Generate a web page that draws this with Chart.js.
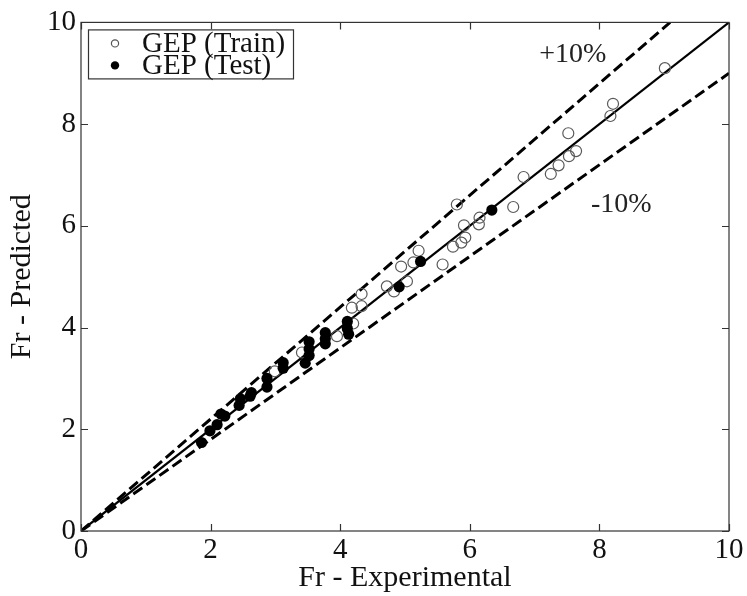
<!DOCTYPE html>
<html><head><meta charset="utf-8">
<script src="https://cdn.jsdelivr.net/npm/chart.js@4"></script>
<style>html,body{margin:0;padding:0;background:#fff}</style>
</head><body>
<canvas id="c" width="747" height="596"></canvas>
<script>
// ---- data ----
const trainX = [9.01,8.21,8.17,7.52,7.64,7.53,7.37,7.25,6.83,6.67,5.80,6.15,6.14,5.91,5.93,5.87,5.74,5.58,5.21,5.13,4.94,5.03,4.83,4.72,4.33,4.18,4.33,4.20,3.95,3.41,2.99];
const trainY = [9.10,8.40,8.16,7.82,7.47,7.37,7.19,7.02,6.96,6.37,6.42,6.16,6.03,6.01,5.77,5.67,5.59,5.24,5.51,5.28,5.20,4.91,4.71,4.81,4.66,4.39,4.42,4.08,3.83,3.51,3.14];
const testX = [6.34,5.24,4.91,4.11,4.11,4.13,3.77,3.77,3.77,3.52,3.52,3.52,3.46,3.12,3.12,2.87,2.87,2.63,2.61,2.46,2.44,2.22,2.16,2.10,1.99,1.86];
const testY = [6.31,5.30,4.80,4.12,3.98,3.87,3.90,3.78,3.68,3.72,3.58,3.45,3.30,3.31,3.20,3.00,2.83,2.72,2.65,2.60,2.47,2.26,2.30,2.09,1.97,1.74];
const lineX = [0, 10];
const plus10X = [0, 9.0909];
const factors = {exact: 1.0, plus10: 1.1, minus10: 0.9};
const xTicks = [0, 2, 4, 6, 8, 10];
const yTicks = [0, 2, 4, 6, 8, 10];
const seriesLabels = ['GEP (Train)', 'GEP (Test)'];
const bandLabels = ['+10%', '-10%'];
const bandLabelPos = [[7.07, 9.36], [7.87, 6.41]];

const pts = (xs, ys) => xs.map((x, i) => ({x, y: ys[i]}));
const lineData = (xs, f) => xs.map(x => ({x, y: x * f}));

const FONT = "'Liberation Serif', 'Times New Roman', Times, serif";

const datasets = [
  {label: seriesLabels[0], data: pts(trainX, trainY), pointRadius: 5.5, pointHoverRadius: 5.5,
   pointBackgroundColor: 'rgba(255,255,255,0)', pointBorderColor: '#5a5a5a', pointBorderWidth: 1.2, showLine: false, order: 1},
  {label: seriesLabels[1], data: pts(testX, testY), pointRadius: 5.6, pointHoverRadius: 5.6,
   pointBackgroundColor: '#000', pointBorderColor: '#000', pointBorderWidth: 0, showLine: false, order: 0},
  {label: 'exact', data: lineData(lineX, factors.exact), showLine: true, borderColor: '#000', borderWidth: 2.2, pointRadius: 0, order: 3},
  {label: 'plus', data: lineData(plus10X, factors.plus10), showLine: true, borderColor: '#000', borderWidth: 3, borderDash: [11, 5], pointRadius: 0, order: 3},
  {label: 'minus', data: lineData(lineX, factors.minus10), showLine: true, borderColor: '#000', borderWidth: 3, borderDash: [11, 5], pointRadius: 0, order: 3}
];

const framePlugin = {
  id: 'frame',
  afterDatasetsDraw(chart) {
    const {ctx, chartArea: a, scales: {x, y}} = chart;
    ctx.save();
    ctx.strokeStyle = '#333';
    ctx.lineWidth = 1.2;
    ctx.strokeRect(a.left, a.top, a.right - a.left, a.bottom - a.top);
    const L = 7;
    ctx.beginPath();
    xTicks.forEach(v => {
      const px = Math.round(x.getPixelForValue(v)) + 0.5;
      ctx.moveTo(px, a.bottom); ctx.lineTo(px, a.bottom - L);
      ctx.moveTo(px, a.top); ctx.lineTo(px, a.top + L);
    });
    yTicks.forEach(v => {
      const py = Math.round(y.getPixelForValue(v)) + 0.5;
      ctx.moveTo(a.left, py); ctx.lineTo(a.left + L, py);
      ctx.moveTo(a.right, py); ctx.lineTo(a.right - L, py);
    });
    ctx.stroke();
    // band annotations
    ctx.fillStyle = '#222';
    ctx.font = '28px ' + FONT;
    ctx.textAlign = 'left';
    ctx.textBaseline = 'middle';
    bandLabels.forEach((t, i) => {
      ctx.fillText(t, x.getPixelForValue(bandLabelPos[i][0]), y.getPixelForValue(bandLabelPos[i][1]));
    });
    // legend
    const bx = a.left + 7, by = a.top + 7, bw = 205, bh = 49;
    ctx.fillStyle = '#fff';
    ctx.fillRect(bx, by, bw, bh);
    ctx.strokeStyle = '#333';
    ctx.lineWidth = 1.2;
    ctx.strokeRect(bx + 0.5, by + 0.5, bw, bh);
    ctx.font = '29px ' + FONT;
    const rows = [by + 14, by + 36];
    ctx.beginPath(); ctx.arc(bx + 27, rows[0], 3.6, 0, Math.PI * 2);
    ctx.strokeStyle = '#555'; ctx.lineWidth = 1.2; ctx.stroke();
    ctx.beginPath(); ctx.arc(bx + 27, rows[1], 4.2, 0, Math.PI * 2);
    ctx.fillStyle = '#000'; ctx.fill();
    ctx.fillStyle = '#111';
    ctx.fillText(chart.data.datasets[0].label, bx + 54, rows[0] + 1);
    ctx.fillText(chart.data.datasets[1].label, bx + 54, rows[1] + 1);
    ctx.restore();
  }
};

new Chart(document.getElementById('c'), {
  type: 'scatter',
  data: {datasets},
  options: {
    responsive: false,
    animation: false,
    devicePixelRatio: 1,
    layout: {padding: {top: 18, right: 18, left: 0, bottom: 0}},
    plugins: {legend: {display: false}, tooltip: {enabled: false}},
    scales: {
      x: {
        type: 'linear', min: 0, max: 10,
        afterBuildTicks(s) { s.ticks = xTicks.map(v => ({value: v})); },
        ticks: {font: {family: FONT, size: 29}, color: '#111', padding: 2, maxRotation: 0, autoSkip: false},
        grid: {display: false, drawTicks: false},
        border: {display: false},
        title: {display: true, text: 'Fr - Experimental', color: '#111', font: {family: FONT, size: 30}, padding: {top: 0, bottom: 0}},
        afterFit(s) { s.height = 65; }
      },
      y: {
        type: 'linear', min: 0, max: 10,
        afterBuildTicks(s) { s.ticks = yTicks.map(v => ({value: v})); },
        ticks: {font: {family: FONT, size: 29}, color: '#111', padding: 5, autoSkip: false},
        grid: {display: false, drawTicks: false},
        border: {display: false},
        title: {display: true, text: 'Fr - Predicted', color: '#111', font: {family: FONT, size: 30}, padding: {top: 4, bottom: 0}},
        afterFit(s) { s.width = 81; }
      }
    }
  },
  plugins: [framePlugin]
});
</script>
</body></html>
